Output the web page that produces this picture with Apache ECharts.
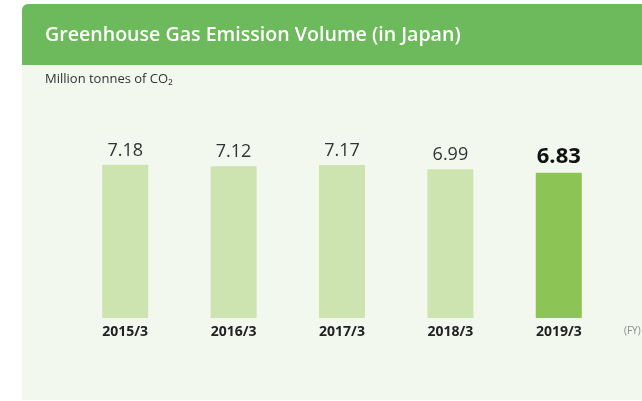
<!DOCTYPE html>
<html>
<head>
<meta charset="utf-8">
<script src="https://cdn.jsdelivr.net/npm/echarts@6/dist/echarts.min.js"></script>
<style>
html,body{margin:0;padding:0;background:#fff;}
#chart{width:642px;height:401px;}
</style>
</head>
<body>
<div id="chart"></div>
<script>
const categories = ['2015/3', '2016/3', '2017/3', '2018/3', '2019/3'];
const values = [7.18, 7.12, 7.17, 6.99, 6.83];
const highlightIndex = 4;
const titleText = 'Greenhouse Gas Emission Volume (in Japan)';
const unitText = 'Million tonnes of CO\u2082';
const fyText = '(FY)';

const FONT = '"Open Sans", "Noto Sans", sans-serif';
const chart = echarts.init(document.getElementById('chart'), null, {renderer: 'canvas'});

const seriesData = values.map((v, i) => {
  const hi = i === highlightIndex;
  return {
    value: v,
    itemStyle: {color: hi ? '#8cc556' : '#cde4b1'},
    label: hi
      ? {fontSize: 22, fontWeight: 'bold', color: '#111'}
      : {fontSize: 18, fontWeight: 'normal', color: '#333'}
  };
});

chart.setOption({
  animation: false,
  backgroundColor: '#ffffff',
  textStyle: {fontFamily: FONT},
  graphic: [
    {type: 'rect', z: -10, shape: {x: 22, y: 4, width: 640, height: 396, r: [6, 0, 0, 0]}, style: {fill: '#f2f8ee'}},
    {type: 'rect', z: -9, shape: {x: 22, y: 4, width: 640, height: 61, r: [6, 0, 0, 0]}, style: {fill: '#6cba5b'}},
    {type: 'text', z: 5, left: 45, top: 73, style: {text: unitText, fontSize: 13, fill: '#333', fontFamily: FONT}},
    {type: 'text', z: 5, left: 624, top: 326, style: {text: fyText, fontSize: 10, fill: '#888', fontFamily: FONT}}
  ],
  title: {
    text: titleText,
    left: 45,
    top: 25,
    padding: 0,
    textStyle: {fontSize: 19.6, fontWeight: 600, color: '#ffffff', fontFamily: FONT}
  },
  grid: {left: 71, right: 29, top: 146, bottom: 83, containLabel: false},
  xAxis: {
    type: 'category',
    data: categories,
    axisLine: {show: false},
    axisTick: {show: false},
    axisLabel: {fontSize: 14, fontWeight: 'bold', color: '#222', margin: 7, fontFamily: FONT}
  },
  yAxis: {
    type: 'value',
    min: 0.5,
    max: 8,
    show: false,
    splitLine: {show: false}
  },
  series: [{
    type: 'bar',
    data: seriesData,
    barWidth: 46,
    label: {show: true, position: 'top', distance: 5, fontFamily: FONT, formatter: p => p.value.toFixed(2)}
  }]
});
</script>
</body>
</html>
